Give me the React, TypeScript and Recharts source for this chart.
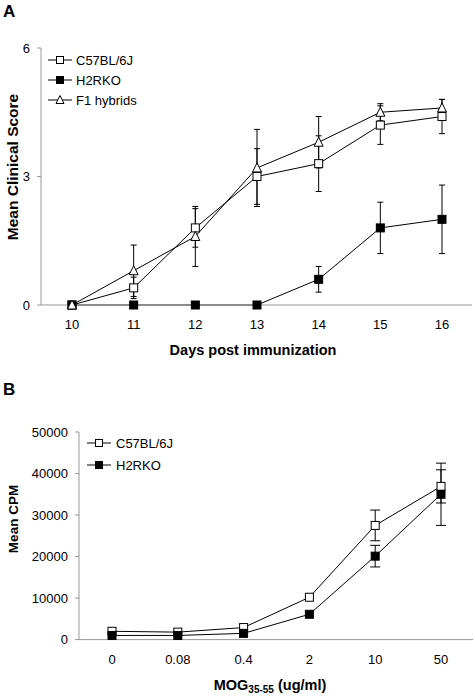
import React from 'react';
import { LineChart, Line, XAxis, YAxis, ErrorBar } from 'recharts';

// Panel A: clinical score
const days = ['10', '11', '12', '13', '14', '15', '16'];
const c57Score = [0, 0.4, 1.8, 3.0, 3.3, 4.2, 4.4];
const c57ScoreErr = [0, 0.25, 0.45, 0.65, 0.65, 0.45, 0.4];
const h2rkoScore = [0, 0, 0, 0, 0.6, 1.8, 2.0];
const h2rkoScoreErr = [0, 0, 0, 0, 0.3, 0.6, 0.8];
const f1Score = [0, 0.8, 1.6, 3.2, 3.8, 4.5, 4.6];
const f1ScoreErr = [0, 0.6, 0.7, 0.9, 0.6, 0.2, 0.2];
const scoreTicks = [0, 3, 6];

// Panel B: proliferation
const doses = ['0', '0.08', '0.4', '2', '10', '50'];
const c57Cpm = [2000, 1800, 2900, 10200, 27500, 36900];
const c57CpmErr = [0, 0, 0, 0, 3700, 4000];
const h2rkoCpm = [1000, 1000, 1500, 6100, 20100, 35000];
const h2rkoCpmErr = [0, 0, 0, 0, 2600, 7500];
const cpmTicks = [0, 10000, 20000, 30000, 40000, 50000];

const dataA = days.map((d, i) => ({
  day: d,
  c57: c57Score[i], c57e: c57ScoreErr[i],
  h2: h2rkoScore[i], h2e: h2rkoScoreErr[i],
  f1: f1Score[i], f1e: f1ScoreErr[i],
}));

const dataB = doses.map((d, i) => ({
  dose: d,
  c57: c57Cpm[i], c57e: c57CpmErr[i],
  h2: h2rkoCpm[i], h2e: h2rkoCpmErr[i],
}));

const FONT = '"Liberation Sans", Arial, Helvetica, sans-serif';
const AXIS = '#999';

const openSquare = (p: any) =>
  p.cx == null ? <g key={`os-${p.index}`} /> : (
    <rect key={`os-${p.index}`} x={p.cx - 4} y={p.cy - 4} width={8} height={8} fill="#fff" stroke="#000" strokeWidth={1} />
  );
const filledSquare = (p: any) =>
  p.cx == null ? <g key={`fs-${p.index}`} /> : (
    <rect key={`fs-${p.index}`} x={p.cx - 4} y={p.cy - 4} width={8} height={8} fill="#000" stroke="#000" strokeWidth={1} />
  );
const openTriangle = (p: any) =>
  p.cx == null ? <g key={`ot-${p.index}`} /> : (
    <polygon key={`ot-${p.index}`} points={`${p.cx},${p.cy - 5} ${p.cx - 4.5},${p.cy + 4} ${p.cx + 4.5},${p.cy + 4}`} fill="#fff" stroke="#000" strokeWidth={1} />
  );

const LegendIcon = ({ x, y, kind }: { x: number; y: number; kind: string }) => (
  <g>
    <line x1={x - 12} y1={y} x2={x + 12} y2={y} stroke="#000" strokeWidth={1} />
    {kind === 'os' && <rect x={x - 3.5} y={y - 3.5} width={7} height={7} fill="#fff" stroke="#000" />}
    {kind === 'fs' && <rect x={x - 3.5} y={y - 3.5} width={7} height={7} fill="#000" stroke="#000" />}
    {kind === 'ot' && <polygon points={`${x},${y - 4.5} ${x - 4},${y + 3.5} ${x + 4},${y + 3.5}`} fill="#fff" stroke="#000" />}
  </g>
);

export default function App() {
  return (
    <div style={{ position: 'absolute', left: 0, top: 0, width: 475, height: 696, background: '#fff', fontFamily: FONT }}>
      <div style={{ position: 'absolute', left: 0, top: 0 }}>
        <LineChart width={475} height={370} data={dataA} margin={{ top: 48, right: 3, left: 0, bottom: 0 }}>
          <XAxis
            dataKey="day"
            type="category"
            height={65}
            padding={{ left: 31, right: 30 }}
            tickLine={false}
            tickSize={0}
            tickMargin={15}
            axisLine={{ stroke: AXIS }}
            tick={{ fill: '#000', fontSize: 13 }}
            label={{
              content: () => (
                <text x={253} y={355} textAnchor="middle" fontWeight="bold" fontSize={14.5} fill="#000">
                  Days post immunization
                </text>
              ),
            }}
          />
          <YAxis
            width={41}
            domain={[0, 6]}
            ticks={scoreTicks}
            tickSize={4}
            tickMargin={7}
            tickLine={{ stroke: AXIS }}
            axisLine={{ stroke: AXIS }}
            tick={{ fill: '#000', fontSize: 13 }}
            label={{
              content: () => (
                <text x={18} y={167} transform="rotate(-90 18 167)" textAnchor="middle" fontWeight="bold" fontSize={15.5} fill="#000">
                  Mean Clinical Score
                </text>
              ),
            }}
          />
          <Line dataKey="c57" stroke="#000" strokeWidth={1} isAnimationActive={false} dot={openSquare} activeDot={false}>
            <ErrorBar dataKey="c57e" width={3} stroke="#000" strokeWidth={1} />
          </Line>
          <Line dataKey="h2" stroke="#000" strokeWidth={1} isAnimationActive={false} dot={filledSquare} activeDot={false}>
            <ErrorBar dataKey="h2e" width={3} stroke="#000" strokeWidth={1} />
          </Line>
          <Line dataKey="f1" stroke="#000" strokeWidth={1} isAnimationActive={false} dot={openTriangle} activeDot={false}>
            <ErrorBar dataKey="f1e" width={3} stroke="#000" strokeWidth={1} />
          </Line>
        </LineChart>
      </div>
      <div style={{ position: 'absolute', left: 0, top: 380 }}>
        <LineChart width={475} height={316} data={dataB} margin={{ top: 52, right: 2, left: 0, bottom: 0 }}>
          <XAxis
            dataKey="dose"
            type="category"
            height={56.4}
            padding={{ left: 33, right: 32 }}
            tickLine={false}
            tickSize={0}
            tickMargin={15}
            axisLine={{ stroke: AXIS }}
            tick={{ fill: '#000', fontSize: 13 }}
            label={{
              content: () => (
                <text x={270} y={310} textAnchor="middle" fontWeight="bold" fontSize={14.5} fill="#000">
                  MOG<tspan fontSize={10} dy={3}>35-55</tspan><tspan dy={-3}> (ug/ml)</tspan>
                </text>
              ),
            }}
          />
          <YAxis
            width={79}
            domain={[0, 50000]}
            ticks={cpmTicks}
            tickSize={4}
            tickMargin={7}
            tickLine={{ stroke: AXIS }}
            axisLine={{ stroke: AXIS }}
            tick={{ fill: '#000', fontSize: 13 }}
            label={{
              content: () => (
                <text x={18} y={139} transform="rotate(-90 18 139)" textAnchor="middle" fontWeight="bold" fontSize={13.5} fill="#000">
                  Mean CPM
                </text>
              ),
            }}
          />
          <Line dataKey="c57" stroke="#000" strokeWidth={1} isAnimationActive={false} dot={openSquare} activeDot={false}>
            <ErrorBar dataKey="c57e" width={5} stroke="#000" strokeWidth={1} />
          </Line>
          <Line dataKey="h2" stroke="#000" strokeWidth={1} isAnimationActive={false} dot={filledSquare} activeDot={false}>
            <ErrorBar dataKey="h2e" width={5} stroke="#000" strokeWidth={1} />
          </Line>
        </LineChart>
      </div>
      <svg width={475} height={696} style={{ position: 'absolute', left: 0, top: 0, pointerEvents: 'none' }}>
        <text x={3} y={17} fontWeight="bold" fontSize={17} fill="#000" fontFamily={FONT}>A</text>
        <text x={3} y={395} fontWeight="bold" fontSize={17} fill="#000" fontFamily={FONT}>B</text>
        <LegendIcon x={60} y={60} kind="os" />
        <text x={76} y={64.5} fontSize={13} fill="#000" fontFamily={FONT}>C57BL/6J</text>
        <LegendIcon x={60} y={80} kind="fs" />
        <text x={76} y={84.5} fontSize={13} fill="#000" fontFamily={FONT}>H2RKO</text>
        <LegendIcon x={60} y={100} kind="ot" />
        <text x={76} y={104.5} fontSize={13} fill="#000" fontFamily={FONT}>F1 hybrids</text>
        <LegendIcon x={99} y={443} kind="os" />
        <text x={116} y={447.5} fontSize={13} fill="#000" fontFamily={FONT}>C57BL/6J</text>
        <LegendIcon x={99} y={465} kind="fs" />
        <text x={116} y={469.5} fontSize={13} fill="#000" fontFamily={FONT}>H2RKO</text>
      </svg>
    </div>
  );
}
